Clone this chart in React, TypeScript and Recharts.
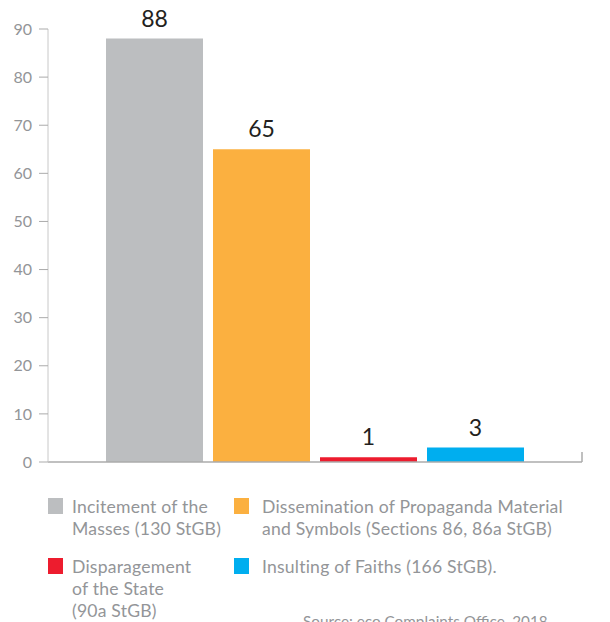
import React from 'react'
import * as R from 'recharts'
import { BarChart, Bar, XAxis, YAxis, Cell, LabelList } from 'recharts'

const categories = [
  'Incitement of the Masses (130 StGB)',
  'Dissemination of Propaganda Material and Symbols (Sections 86, 86a StGB)',
  'Disparagement of the State (90a StGB)',
  'Insulting of Faiths (166 StGB).',
]
const values = [88, 65, 1, 3]
const colors = ['#BCBEC0', '#FBB040', '#ED1C2E', '#00AEEF']
const yTicks = [0, 10, 20, 30, 40, 50, 60, 70, 80, 90]
const legendLines = [
  ['Incitement of the', 'Masses (130 StGB)'],
  ['Dissemination of Propaganda Material', 'and Symbols (Sections 86, 86a StGB)'],
  ['Disparagement', 'of the State', '(90a StGB)'],
  ['Insulting of Faiths (166 StGB).'],
]
const source = 'Source: eco Complaints Office, 2018'

const data = categories.map((name, i) => ({ name, value: values[i] }))

const font = 'Lato, "Open Sans", sans-serif'
const axisGrey = '#ABABAB'
const textGrey = '#939598'

const usePlotArea: () => any = (R as any).usePlotArea ?? (() => null)

// small upward tick closing the x axis on the right
function EndTick() {
  const area = usePlotArea()
  if (!area) return null
  const x = area.x + area.width
  const y = area.y + area.height
  return <line x1={x} x2={x} y1={y} y2={y - 10} stroke={axisGrey} strokeWidth={1.5} />
}

function LegendItem({ i, left, top, gap }: { i: number; left: number; top: number; gap: number }) {
  return (
    <div style={{ position: 'absolute', left, top, display: 'flex' }}>
      <div style={{ width: 15, height: 16, background: colors[i], marginTop: 1, flexShrink: 0 }} />
      <div style={{ marginLeft: gap, fontSize: 17.6, lineHeight: '22px', color: textGrey, whiteSpace: 'nowrap', letterSpacing: 0.2, marginTop: -1 }}>
        {legendLines[i].map((l, k) => <div key={k}>{l}</div>)}
      </div>
    </div>
  )
}

export default function App() {
  return (
    <div style={{ position: 'absolute', left: 0, top: 0, width: 610, height: 622, overflow: 'hidden', background: '#fff', fontFamily: font }}>
      <BarChart
        width={610}
        height={480}
        data={data}
        margin={{ top: 29, right: 28, left: 0, bottom: 14 }}
        barCategoryGap={5}
      >
        <XAxis
          dataKey="name"
          tick={false}
          tickLine={false}
          height={4}
          padding={{ left: 53, right: 53 }}
          axisLine={{ stroke: axisGrey, strokeWidth: 1.5 }}
        />
        <YAxis
          width={48}
          domain={[0, 90]}
          ticks={yTicks}
          interval={0}
          tickSize={9}
          tickMargin={7}
          axisLine={{ stroke: '#C8C8C8', strokeWidth: 1 }}
          tickLine={{ stroke: axisGrey }}
          tick={{ fontSize: 16, fill: textGrey, fontFamily: font }}
        />
        <Bar dataKey="value" isAnimationActive={false}>
          {data.map((d, i) => <Cell key={d.name} fill={colors[i]} />)}
          <LabelList dataKey="value" position="top" offset={12} style={{ fontSize: 23, fill: '#231F20', fontFamily: font }} />
        </Bar>
        <EndTick />
      </BarChart>
      <LegendItem i={0} left={48} top={497} gap={9} />
      <LegendItem i={1} left={234} top={497} gap={13} />
      <LegendItem i={2} left={48} top={557} gap={9} />
      <LegendItem i={3} left={234} top={557} gap={13} />
      <div style={{ position: 'absolute', left: 303, top: 612, fontSize: 15.3, color: textGrey, whiteSpace: 'nowrap' }}>{source}</div>
    </div>
  )
}
